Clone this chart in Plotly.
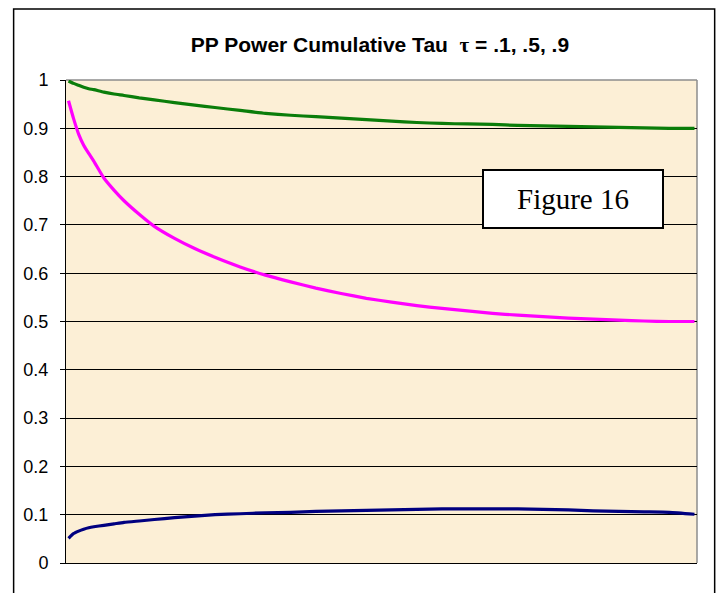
import plotly.graph_objects as go

# sample positions along the (unlabelled) category axis, 125 categories in total
step = [1, 2, 3, 4, 5, 6, 8, 10, 12, 15, 18, 22, 26, 30, 35, 40, 45, 50, 55,
        60, 65, 70, 75, 80, 85, 90, 95, 100, 105, 110, 115, 120, 125]

tau_90 = [0.998, 0.993, 0.989, 0.985, 0.982, 0.980, 0.975, 0.971, 0.968, 0.963,
          0.959, 0.953, 0.948, 0.943, 0.937, 0.931, 0.927, 0.924, 0.921, 0.918,
          0.915, 0.912, 0.910, 0.909, 0.908, 0.906, 0.905, 0.904, 0.903, 0.902,
          0.901, 0.900, 0.900]

tau_50 = [0.957, 0.920, 0.888, 0.865, 0.848, 0.832, 0.797, 0.772, 0.750, 0.722,
          0.697, 0.672, 0.651, 0.633, 0.613, 0.596, 0.582, 0.569, 0.558, 0.548,
          0.540, 0.533, 0.527, 0.522, 0.517, 0.513, 0.510, 0.507, 0.505, 0.503,
          0.501, 0.500, 0.500]

tau_10 = [0.051, 0.061, 0.066, 0.070, 0.073, 0.075, 0.078, 0.081, 0.084, 0.087,
          0.090, 0.094, 0.097, 0.100, 0.102, 0.104, 0.105, 0.107, 0.108, 0.109,
          0.110, 0.111, 0.112, 0.112, 0.112, 0.112, 0.111, 0.110, 0.108, 0.107,
          0.106, 0.105, 0.101]

n_cat = 125
title_text = "<b>PP Power Cumulative Tau  </b><span style='font-family:Liberation Serif'><b>τ</b></span><b> = .1, .5, .9</b>"

fig = go.Figure()
fig.add_trace(go.Scatter(x=step, y=tau_90, mode="lines",
                         line=dict(color="#0a7d0a", width=3.2, shape="spline", smoothing=0.5)))
fig.add_trace(go.Scatter(x=step, y=tau_50, mode="lines",
                         line=dict(color="#ff00ff", width=3.2, shape="spline", smoothing=0.5)))
fig.add_trace(go.Scatter(x=step, y=tau_10, mode="lines",
                         line=dict(color="#000080", width=3.2, shape="spline", smoothing=0.5)))

# page body adds an 8px margin, so the figure is nudged up/left to compensate
fig.update_layout(
    width=725, height=593,
    margin=dict(l=58, r=36, t=72, b=38),
    paper_bgcolor="white",
    plot_bgcolor="#fcefd6",
    showlegend=False,
    font=dict(family="Liberation Sans, Arial", color="black"),
    title=dict(text=title_text, x=0.513, xanchor="center", y=0.938, yanchor="middle",
               font=dict(size=21, color="black")),
    shapes=[
        # outer chart border
        dict(type="rect", xref="paper", yref="paper",
             x0=-0.083, x1=1.028, y0=-0.12, y1=1.147,
             line=dict(color="black", width=1.5), fillcolor="rgba(0,0,0,0)"),
        # grey top and right edges of the plot area
        dict(type="line", xref="paper", yref="paper", x0=0, x1=1, y0=1, y1=1,
             line=dict(color="#8c8c8c", width=1.5), layer="below"),
        dict(type="line", xref="paper", yref="paper", x0=1, x1=1, y0=0, y1=1,
             line=dict(color="#8c8c8c", width=1.5), layer="below"),
    ],
    annotations=[
        dict(text="Figure 16", xref="paper", yref="paper", x=0.803, y=0.754,
             xanchor="center", yanchor="middle", showarrow=False,
             font=dict(family="Liberation Serif", size=29, color="black"),
             bgcolor="white", bordercolor="black", borderwidth=2,
             width=176, height=54),
    ],
)

fig.update_xaxes(range=[0.5, n_cat + 0.5], showticklabels=False, showgrid=False,
                 zeroline=False, showline=True, linecolor="black", linewidth=1,
                 ticks="")
fig.update_yaxes(range=[0, 1], dtick=0.1, showgrid=True, gridcolor="black",
                 gridwidth=1, zeroline=False, showline=True, linecolor="black",
                 linewidth=1, ticks="outside", ticklen=5, tickcolor="black",
                 ticklabelstandoff=8,
                 tickfont=dict(size=18, family="Liberation Sans, Arial", color="black"))

fig.write_html("out.html")
